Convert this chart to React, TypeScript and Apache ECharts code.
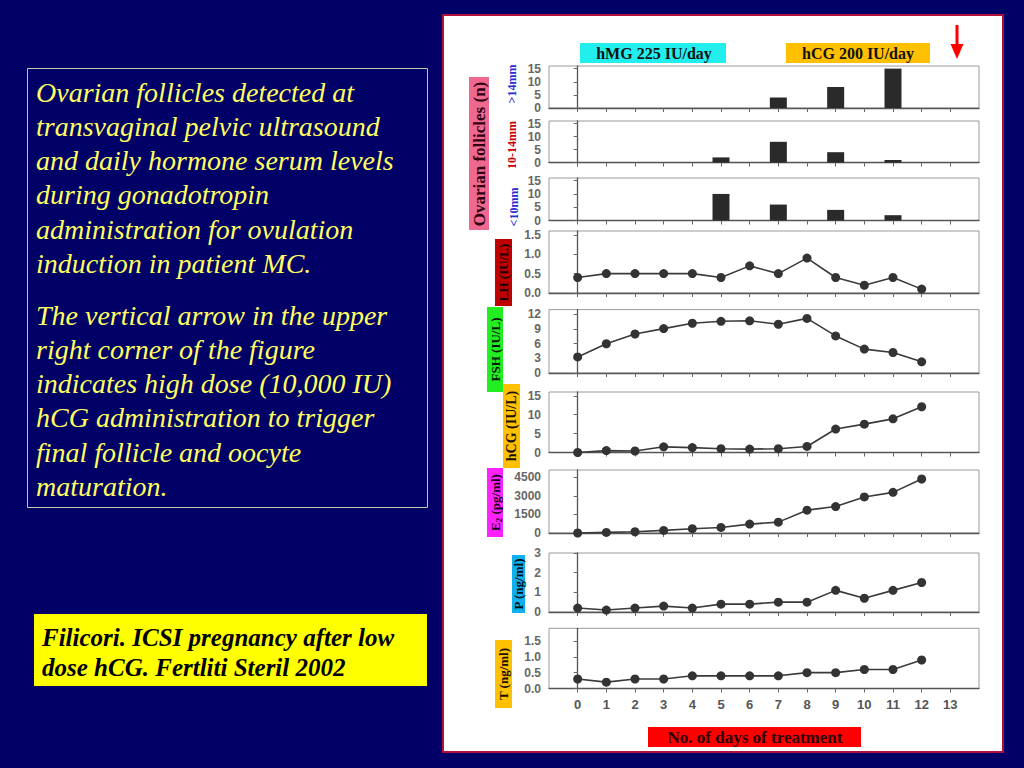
import React, { useEffect, useRef } from "react";
import * as echarts from "echarts";

// ---------- data ----------
const days = [0, 1, 2, 3, 4, 5, 6, 7, 8, 9, 10, 11, 12];
const dayTickLabels = [0, 1, 2, 3, 4, 5, 6, 7, 8, 9, 10, 11, 12, 13];

const barDays = [5, 7, 9, 11];
const follGt14 = [0, 4, 8, 15];
const foll10to14 = [2, 8, 4, 1];
const follLt10 = [10, 6, 4, 2];

const lh = [0.4, 0.5, 0.5, 0.5, 0.5, 0.4, 0.7, 0.5, 0.9, 0.4, 0.2, 0.4, 0.1];
const fsh = [3.3, 6.0, 8.0, 9.1, 10.2, 10.6, 10.7, 10.0, 11.2, 7.6, 4.9, 4.2, 2.3];
const hcg = [0, 0.5, 0.4, 1.5, 1.3, 1.0, 0.9, 1.0, 1.6, 6.2, 7.5, 8.9, 12.1];
const e2 = [0, 50, 100, 210, 350, 450, 720, 880, 1850, 2140, 2920, 3290, 4370];
const prog = [0.2, 0.1, 0.2, 0.3, 0.2, 0.4, 0.4, 0.5, 0.5, 1.1, 0.7, 1.1, 1.5];
const testo = [0.3, 0.2, 0.3, 0.3, 0.4, 0.4, 0.4, 0.4, 0.5, 0.5, 0.6, 0.6, 0.9];

const follTicks = [0, 5, 10, 15];
const lhTicks = [0, 0.5, 1, 1.5];
const fshTicks = [0, 3, 6, 9, 12];
const hcgTicks = [0, 5, 10, 15];
const e2Ticks = [0, 1500, 3000, 4500];
const pTicks = [0, 1, 2, 3];
const tTicks = [0, 0.5, 1, 1.5];

const para1 = [
  "Ovarian follicles detected at",
  "transvaginal pelvic ultrasound",
  "and daily hormone serum levels",
  "during gonadotropin",
  "administration for ovulation",
  "induction in patient MC.",
];
const para2 = [
  "The vertical arrow in the upper",
  "right corner of the figure",
  "indicates high dose (10,000 IU)",
  "hCG administration to trigger",
  "final follicle and oocyte",
  "maturation.",
];
const citation = ["Filicori. ICSI pregnancy after low", "dose hCG. Fertliti Steril 2002"];

// ---------- layout ----------
const SERIF = "'Liberation Serif', 'Times New Roman', serif";
const SANS = "'Liberation Sans', Arial, sans-serif";
const PLOT_LEFT = 549;
const PLOT_W = 430;

const panels = [
  { top: 66, h: 42, max: 16, ticks: follTicks, dec: 0 },
  { top: 121, h: 41.6, max: 16, ticks: follTicks, dec: 0 },
  { top: 178, h: 42.5, max: 16, ticks: follTicks, dec: 0 },
  { top: 231, h: 62, max: 1.6, ticks: lhTicks, dec: 1 },
  { top: 309.6, h: 63.4, max: 13, ticks: fshTicks, dec: 0 },
  { top: 392, h: 60.5, max: 16, ticks: hcgTicks, dec: 0 },
  { top: 470, h: 63, max: 5100, ticks: e2Ticks, dec: 0 },
  { top: 553, h: 59, max: 3, ticks: pTicks, dec: 0 },
  { top: 628.3, h: 60.2, max: 1.9, ticks: tTicks, dec: 1 },
];

function vText(
  text: string,
  cx: number,
  cy: number,
  fill: string,
  size: number,
  extra: any = {}
) {
  return {
    type: "text",
    x: cx,
    y: cy,
    rotation: Math.PI / 2,
    z: 20,
    style: {
      text,
      fill,
      font: `bold ${size}px ${SERIF}`,
      align: "center",
      verticalAlign: "middle",
      textAlign: "center",
      textVerticalAlign: "middle",
      ...extra,
    },
  };
}

function box(x1: number, y1: number, x2: number, y2: number, fill: string) {
  return {
    type: "rect",
    z: 15,
    shape: { x: x1, y: y1, width: x2 - x1, height: y2 - y1 },
    style: { fill },
  };
}

function hText(text: string, cx: number, cy: number, fill: string, font: string) {
  return {
    type: "text",
    x: cx,
    y: cy,
    z: 20,
    style: {
      text,
      fill,
      font,
      align: "center",
      verticalAlign: "middle",
      textAlign: "center",
      textVerticalAlign: "middle",
    },
  };
}

function leftText(text: string, x: number, y: number, fill: string, font: string) {
  return {
    type: "text",
    x,
    y,
    z: 20,
    style: {
      text,
      fill,
      font,
      align: "left",
      verticalAlign: "middle",
      textAlign: "left",
      textVerticalAlign: "middle",
    },
  };
}

export default function App() {
  const ref = useRef<HTMLDivElement>(null);

  useEffect(() => {
    if (!ref.current) return;
    const chart = echarts.init(ref.current, undefined, { renderer: "svg" });

    const grids = panels.map((p) => ({
      left: PLOT_LEFT,
      top: p.top,
      width: PLOT_W,
      height: p.h,
      show: true,
      borderColor: "#9a9a9a",
      borderWidth: 1,
      backgroundColor: "transparent",
      z: 5,
    }));

    const xAxes = panels.map((_, i) => ({
      type: "value",
      gridIndex: i,
      min: -1,
      max: 14,
      z: 6,
      axisLine: { show: true, lineStyle: { color: "#555", width: 1.3 } },
      axisTick: {
        show: true,
        customValues: dayTickLabels,
        length: 4,
        lineStyle: { color: "#666", width: 1 },
      },
      axisLabel: {
        show: i === panels.length - 1,
        customValues: dayTickLabels,
        color: "#555",
        fontFamily: SANS,
        fontWeight: "bold",
        fontSize: 13,
        margin: 9,
      },
      splitLine: { show: false },
    }));

    const yAxes = panels.map((p, i) => ({
      type: "value",
      gridIndex: i,
      min: 0,
      max: p.max,
      z: 6,
      axisLine: { show: true, lineStyle: { color: "#555", width: 1.3 } },
      axisTick: {
        show: true,
        customValues: p.ticks,
        length: 4,
        lineStyle: { color: "#666" },
      },
      axisLabel: {
        show: true,
        customValues: p.ticks,
        formatter: (v: number) => (p.dec ? v.toFixed(p.dec) : String(v)),
        color: "#666",
        fontFamily: SANS,
        fontWeight: "bold",
        fontSize: 12,
        margin: 8,
      },
      splitLine: { show: false },
    }));

    const barSeries = [follGt14, foll10to14, follLt10].map((vals, i) => ({
      type: "bar",
      xAxisIndex: i,
      yAxisIndex: i,
      barWidth: 17,
      z: 8,
      itemStyle: { color: "#2a2a2a" },
      data: barDays.map((d, j) => [d, vals[j]]),
    }));

    const lineData = [lh, fsh, hcg, e2, prog, testo];
    const lineSeries = lineData.map((vals, k) => ({
      type: "line",
      xAxisIndex: k + 3,
      yAxisIndex: k + 3,
      symbol: "circle",
      symbolSize: 9,
      z: 8,
      lineStyle: { color: "#3a3a3a", width: 1.6 },
      itemStyle: { color: "#333" },
      data: days.map((d, j) => [d, vals[j]]),
    }));

    const graphics: any[] = [
      // white figure panel
      {
        type: "rect",
        z: -1,
        shape: { x: 443, y: 15, width: 560, height: 737 },
        style: { fill: "#ffffff", stroke: "#b0103c", lineWidth: 2 },
      },
      // left description box
      {
        type: "rect",
        z: 1,
        shape: { x: 27.5, y: 68.5, width: 400, height: 439 },
        style: { fill: "none", stroke: "#c8c8a8", lineWidth: 1 },
      },
      // citation box
      box(34, 614, 427, 686, "#ffff00"),
      // treatment boxes
      box(580, 43, 726, 63, "#22eeee"),
      hText("hMG 225 IU/day", 654, 53.5, "#111", `bold 16px ${SERIF}`),
      box(786, 43, 930, 63, "#ffc000"),
      hText("hCG 200 IU/day", 858, 53.5, "#111", `bold 16px ${SERIF}`),
      // arrow
      {
        type: "line",
        z: 20,
        shape: { x1: 957, y1: 25, x2: 957, y2: 47 },
        style: { stroke: "#ff0000", lineWidth: 3 },
      },
      {
        type: "polygon",
        z: 20,
        shape: { points: [[950.5, 44], [963.5, 44], [957, 59]] },
        style: { fill: "#ff0000" },
      },
      // x axis title
      box(648, 727, 861, 747, "#ff0000"),
      hText("No. of days of treatment", 755, 737.5, "#2a0000", `bold 17px ${SERIF}`),
      // y labels
      box(469, 77, 489, 230, "#ee6890"),
      vText("Ovarian follicles (n)", 479.5, 154, "#300010", 17),
      vText(">14mm", 512, 84, "#2b2bd0", 12),
      vText("10-14mm", 511.5, 145, "#cc0000", 12),
      vText("<10mm", 514, 207, "#2b2bd0", 12),
      box(495, 239, 512, 306, "#c00000"),
      vText("LH (IU/L)", 503.5, 272.5, "#1a0000", 13),
      box(487, 307, 503, 392, "#22ee22"),
      vText("FSH (IU/L)", 495, 349.5, "#001a00", 13),
      box(503, 384, 520, 468, "#ffc000"),
      vText("hCG (IU/L)", 511.5, 426, "#1a1000", 14),
      box(487, 468, 503, 537, "#ff22ff"),
      vText("{a|E}{s|2}{a| (pg/ml)}", 495, 502.5, "#1a001a", 13, {
        rich: {
          a: { font: `bold 13px ${SERIF}`, fill: "#1a001a", lineHeight: 16 },
          s: {
            font: `bold 9px ${SERIF}`,
            fill: "#1a001a",
            lineHeight: 16,
            verticalAlign: "bottom",
            padding: [6, 0, 0, 0],
          },
        },
      }),
      box(512, 555, 525, 613, "#10b0f0"),
      vText("P (ng/ml)", 518.5, 584, "#00101a", 13),
      box(495, 640, 512, 708, "#ffc000"),
      vText("T (ng/ml)", 503.5, 674, "#1a1000", 13),
    ];

    para1.forEach((line, i) => {
      graphics.push(leftText(line, 36, 92 + i * 34.3, "#ffff60", `italic 28px ${SERIF}`));
    });
    para2.forEach((line, i) => {
      graphics.push(leftText(line, 36, 315 + i * 34.3, "#ffff60", `italic 28px ${SERIF}`));
    });
    citation.forEach((line, i) => {
      graphics.push(leftText(line, 42, 637 + i * 30, "#000000", `italic bold 25px ${SERIF}`));
    });

    chart.setOption({
      animation: false,
      backgroundColor: "#000066",
      grid: grids,
      xAxis: xAxes,
      yAxis: yAxes,
      series: [...barSeries, ...lineSeries],
      graphic: { elements: graphics },
    });

    return () => chart.dispose();
  }, []);

  return (
    <div
      ref={ref}
      style={{ position: "absolute", left: 0, top: 0, width: 1024, height: 768 }}
    />
  );
}
